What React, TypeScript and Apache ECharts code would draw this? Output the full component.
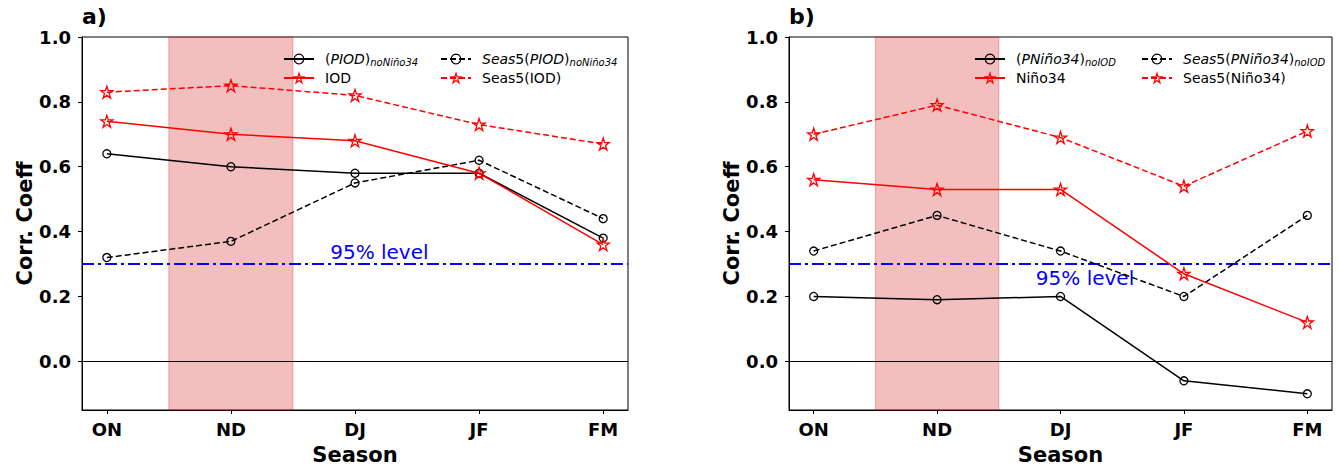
import React, { useEffect, useRef } from 'react';
import * as echarts from 'echarts';

const seasons = ['ON', 'ND', 'DJ', 'JF', 'FM'];
// panel a
const piodNoNino34 = [0.64, 0.60, 0.58, 0.58, 0.38];
const seas5PiodNoNino34 = [0.32, 0.37, 0.55, 0.62, 0.44];
const iod = [0.74, 0.70, 0.68, 0.58, 0.36];
const seas5Iod = [0.83, 0.85, 0.82, 0.73, 0.67];
// panel b
const pNino34NoIod = [0.20, 0.19, 0.20, -0.06, -0.10];
const seas5PNino34NoIod = [0.34, 0.45, 0.34, 0.20, 0.45];
const nino34 = [0.56, 0.53, 0.53, 0.27, 0.12];
const seas5Nino34 = [0.70, 0.79, 0.69, 0.54, 0.71];

const yTicks = [0, 0.2, 0.4, 0.6, 0.8, 1.0];
const xTicks = [0, 1, 2, 3, 4];
const significance = 0.3;
const shadeRange = [0.5, 1.5];
const levelLabel = '95% level';
const levelLabelPos = [[1.8, 0.336], [1.8, 0.258]];

const FONT = 'DejaVu Sans';
const STAR =
  'path://M50 0 L61.23 34.55 L97.55 34.55 L68.16 55.9 L79.39 90.45 L50 69.1 L20.61 90.45 L31.84 55.9 L2.45 34.55 L38.77 34.55 Z';

function lineSeries(name: string, values: number[], g: number, color: string, dashed: boolean, star: boolean) {
  return {
    type: 'line',
    name,
    xAxisIndex: g,
    yAxisIndex: g,
    data: values.map((v, i) => [i, v]),
    symbol: star ? STAR : 'circle',
    symbolSize: star ? 12 : 8,
    showSymbol: true,
    lineStyle: { color, width: 1.5, type: dashed ? [6, 3] : 'solid' },
    itemStyle: { color: 'rgba(255,255,255,0)', borderColor: color, borderWidth: 1.3 },
    z: 5,
  };
}

function helperSeries(g: number) {
  return {
    type: 'line',
    name: 'helper' + g,
    xAxisIndex: g,
    yAxisIndex: g,
    data: [],
    z: 1,
    silent: true,
    markArea: {
      silent: true,
      itemStyle: { color: 'rgba(214,39,40,0.3)', borderColor: 'rgba(214,39,40,0.35)', borderWidth: 1 },
      data: [[{ xAxis: shadeRange[0] }, { xAxis: shadeRange[1] }]],
    },
    markLine: {
      silent: true,
      symbol: ['none', 'none'],
      label: { show: false },
      data: [
        { yAxis: 0, lineStyle: { color: '#000', width: 1, type: 'solid' } },
        { yAxis: significance, lineStyle: { color: '#0000ff', width: 2, type: [12, 4, 3, 4] } },
      ],
    },
    markPoint: {
      silent: true,
      symbol: 'circle',
      symbolSize: 0,
      label: {
        show: true,
        position: 'right',
        distance: 0,
        formatter: levelLabel,
        color: '#0000ff',
        fontSize: 20,
        fontFamily: FONT,
      },
      data: [{ coord: levelLabelPos[g] }],
    },
  };
}

const richStyles = {
  n: { fontSize: 14, fontFamily: FONT, color: '#000', lineHeight: 16 },
  i: { fontSize: 14, fontFamily: FONT, fontStyle: 'italic', color: '#000', lineHeight: 16 },
  s: { fontSize: 10, fontFamily: FONT, fontStyle: 'italic', color: '#000', lineHeight: 10, verticalAlign: 'bottom' },
};

const legendFormats: Record<string, string> = {
  '(PIOD)noNiño34': '{n|(}{i|PIOD}{n|)}{s|noNiño34}',
  'Seas5(PIOD)noNiño34': '{i|Seas}{n|5(}{i|PIOD}{n|)}{s|noNiño34}',
  IOD: '{n|IOD}',
  'Seas5(IOD)': '{n|Seas5(IOD)}',
  '(PNiño34)noIOD': '{n|(}{i|PNiño34}{n|)}{s|noIOD}',
  'Seas5(PNiño34)noIOD': '{i|Seas}{n|5(}{i|PNiño34}{n|)}{s|noIOD}',
  'Niño34': '{n|Niño34}',
  'Seas5(Niño34)': '{n|Seas5(Niño34)}',
};

function legend(left: number, names: string[]) {
  return {
    left,
    top: 47,
    orient: 'vertical',
    itemGap: 4,
    itemWidth: 30,
    itemHeight: 12,
    selectedMode: false,
    data: names,
    itemStyle: { color: 'rgba(255,255,255,0)', borderWidth: 1.2 },
    formatter: (n: string) => legendFormats[n] || n,
    textStyle: { rich: richStyles, padding: [0, 0, 0, 6] },
  };
}

const axisText = { fontFamily: FONT, fontWeight: 'bold', color: '#000' };

function xAxis(g: number) {
  return {
    type: 'value',
    gridIndex: g,
    min: -0.2,
    max: 4.2,
    name: 'Season',
    nameLocation: 'middle',
    nameGap: 34,
    nameTextStyle: { ...axisText, fontSize: 21 },
    axisLine: { show: true, onZero: false, lineStyle: { color: '#000', width: 1 } },
    axisTick: { show: true, length: 4, lineStyle: { color: '#000' }, customValues: xTicks },
    axisLabel: { ...axisText, fontSize: 18, margin: 10, customValues: xTicks, formatter: (v: number) => seasons[Math.round(v)] },
    splitLine: { show: false },
  };
}

function yAxis(g: number) {
  return {
    type: 'value',
    gridIndex: g,
    min: -0.15,
    max: 1.0,
    name: 'Corr. Coeff',
    nameLocation: 'middle',
    nameGap: 45,
    nameTextStyle: { ...axisText, fontSize: 21 },
    axisLine: { show: true, onZero: false, lineStyle: { color: '#000', width: 1 } },
    axisTick: { show: true, length: 4, lineStyle: { color: '#000' }, customValues: yTicks },
    axisLabel: { ...axisText, fontSize: 18, margin: 11, customValues: yTicks, formatter: (v: number) => v.toFixed(1) },
    splitLine: { show: false },
  };
}

export default function App() {
  const ref = useRef<HTMLDivElement>(null);
  useEffect(() => {
    if (!ref.current) return;
    const chart = echarts.init(ref.current, null, { renderer: 'svg' });
    chart.setOption({
      animation: false,
      backgroundColor: '#fff',
      grid: [
        { left: 82, top: 37, width: 546, height: 380, show: true, borderColor: '#000', borderWidth: 1, backgroundColor: 'transparent' },
        { left: 789, top: 37, width: 543, height: 380, show: true, borderColor: '#000', borderWidth: 1, backgroundColor: 'transparent' },
      ],
      xAxis: [xAxis(0), xAxis(1)],
      yAxis: [yAxis(0), yAxis(1)],
      legend: [
        legend(278, ['(PIOD)noNiño34', 'IOD']),
        legend(435, ['Seas5(PIOD)noNiño34', 'Seas5(IOD)']),
        legend(969, ['(PNiño34)noIOD', 'Niño34']),
        legend(1136, ['Seas5(PNiño34)noIOD', 'Seas5(Niño34)']),
      ],
      graphic: [
        { type: 'text', left: 82, top: 5, style: { text: 'a)', fontSize: 22, fontWeight: 'bold', fontFamily: FONT, fill: '#000' } },
        { type: 'text', left: 789, top: 5, style: { text: 'b)', fontSize: 22, fontWeight: 'bold', fontFamily: FONT, fill: '#000' } },
      ],
      series: [
        helperSeries(0),
        helperSeries(1),
        lineSeries('(PIOD)noNiño34', piodNoNino34, 0, '#000', false, false),
        lineSeries('Seas5(PIOD)noNiño34', seas5PiodNoNino34, 0, '#000', true, false),
        lineSeries('IOD', iod, 0, '#ff0000', false, true),
        lineSeries('Seas5(IOD)', seas5Iod, 0, '#ff0000', true, true),
        lineSeries('(PNiño34)noIOD', pNino34NoIod, 1, '#000', false, false),
        lineSeries('Seas5(PNiño34)noIOD', seas5PNino34NoIod, 1, '#000', true, false),
        lineSeries('Niño34', nino34, 1, '#ff0000', false, true),
        lineSeries('Seas5(Niño34)', seas5Nino34, 1, '#ff0000', true, true),
      ],
    });
    return () => chart.dispose();
  }, []);
  return <div ref={ref} style={{ position: 'fixed', left: 0, top: 0, width: 1339, height: 470 }} />;
}
